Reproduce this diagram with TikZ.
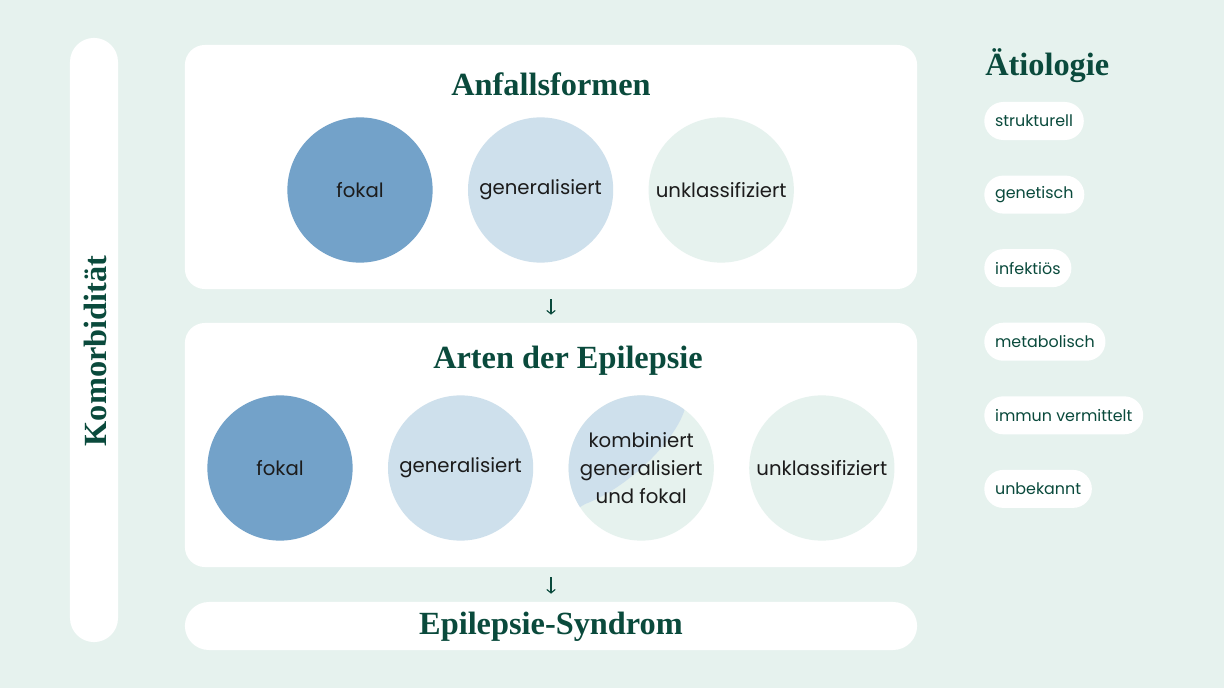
\documentclass[tikz,border=0pt]{standalone}
\usepackage{fontspec}
\setmainfont{Liberation Serif}
\setsansfont{Poppins}
\usepackage{xcolor}
\usepackage{tikz}
\usetikzlibrary{positioning,arrows.meta,calc}
\definecolor{mintbg}{RGB}{230,242,238}
\definecolor{deepblue}{RGB}{115,162,201}
\definecolor{paleblue}{RGB}{206,224,236}
\definecolor{pinegreen}{RGB}{10,74,60}
\definecolor{inkgray}{RGB}{28,28,28}

\begin{document}
\begin{tikzpicture}[x=0.025cm, y=-0.025cm,
  panel/.style={fill=white, rounded corners=0.5cm, minimum width=18.3cm, minimum height=6.1cm, inner sep=0pt},
  headline/.style={font=\fontsize{23}{26}\selectfont\bfseries, text=pinegreen},
  bubble/.style={circle, minimum size=3.63cm, inner sep=0pt, align=center, font=\sffamily\fontsize{14}{20}\selectfont, text=inkgray},
  tag/.style={fill=white, rounded corners=0.475cm, minimum height=0.95cm, inner xsep=0.27cm, font=\sffamily\fontsize{11.3}{14}\selectfont, text=pinegreen},
  flow/.style={-{Straight Barb[length=2.5pt,width=6pt]}, line width=0.8pt, draw=pinegreen, shorten <=0.25cm, shorten >=0.2cm}]
\useasboundingbox[fill=mintbg] (0,0) rectangle (1224,688);

% Komorbiditaet
\node[fill=white, rounded corners=0.6cm, minimum width=15.1cm, minimum height=1.2cm, rotate=90] (komorb) at (94,340) {};
\node[headline, rotate=90] (komorbtext) at (95,351) {Komorbidität};

% panels
\node[panel] (panA) at (551,167) {};
\node[panel] (panB) at (551,445) {};
\node[panel, minimum height=1.2cm, rounded corners=0.6cm] (panC) at (551,626) {};

\node[headline] (titleA) at (551,84) {Anfallsformen};
\node[headline] (titleB) at (568,361) {Arten der Epilepsie};
\node[headline] (titleC) at (551,627) {Epilepsie-Syndrom};

% Anfallsformen
\node[bubble, fill=deepblue] (fokA) at (360,190) {fokal};
\node[bubble, fill=paleblue, right=0.87cm of fokA] (genA) {generalisiert};
\node[bubble, fill=mintbg, right=0.87cm of genA] (unkA) {unklassifiziert};

% Arten der Epilepsie
\node[bubble, fill=deepblue] (fokB) at (280,468) {fokal};
\node[bubble, fill=paleblue, right=0.87cm of fokB] (genB) {generalisiert};
\node[bubble, fill=mintbg, right=0.87cm of genB] (komB) {};
\begin{scope}
\clip (komB) circle (72.6);
\fill[paleblue] ($(komB)+(58,-80)$) -- ($(komB)+(44,-60)$) .. controls ($(komB)+(34,-26)$) and ($(komB)+(-14,20)$) .. ($(komB)+(-56,36)$) -- ($(komB)+(-80,50)$) -- ($(komB)+(-80,-80)$) -- cycle;
\end{scope}
\node[bubble] at (komB) {kombiniert\\generalisiert\\und fokal};
\node[bubble, fill=mintbg, right=0.87cm of komB] (unkB) {unklassifiziert};

\draw[flow] (panA) -- (panB);
\draw[flow] (panB) -- (panC);

% Aetiologie
\node[headline, anchor=west, inner xsep=0pt] (aetio) at (985,66) {Ätiologie};
\node[tag, anchor=west] (struk) at (984,121) {strukturell};
\node[tag, below=0.875cm of struk.south west, anchor=north west] (genet) {genetisch};
\node[tag, below=0.875cm of genet.south west, anchor=north west] (infek) {infektiös};
\node[tag, below=0.875cm of infek.south west, anchor=north west] (metab) {metabolisch};
\node[tag, below=0.875cm of metab.south west, anchor=north west] (immun) {immun vermittelt};
\node[tag, below=0.875cm of immun.south west, anchor=north west] (unbek) {unbekannt};
\end{tikzpicture}
\end{document}
